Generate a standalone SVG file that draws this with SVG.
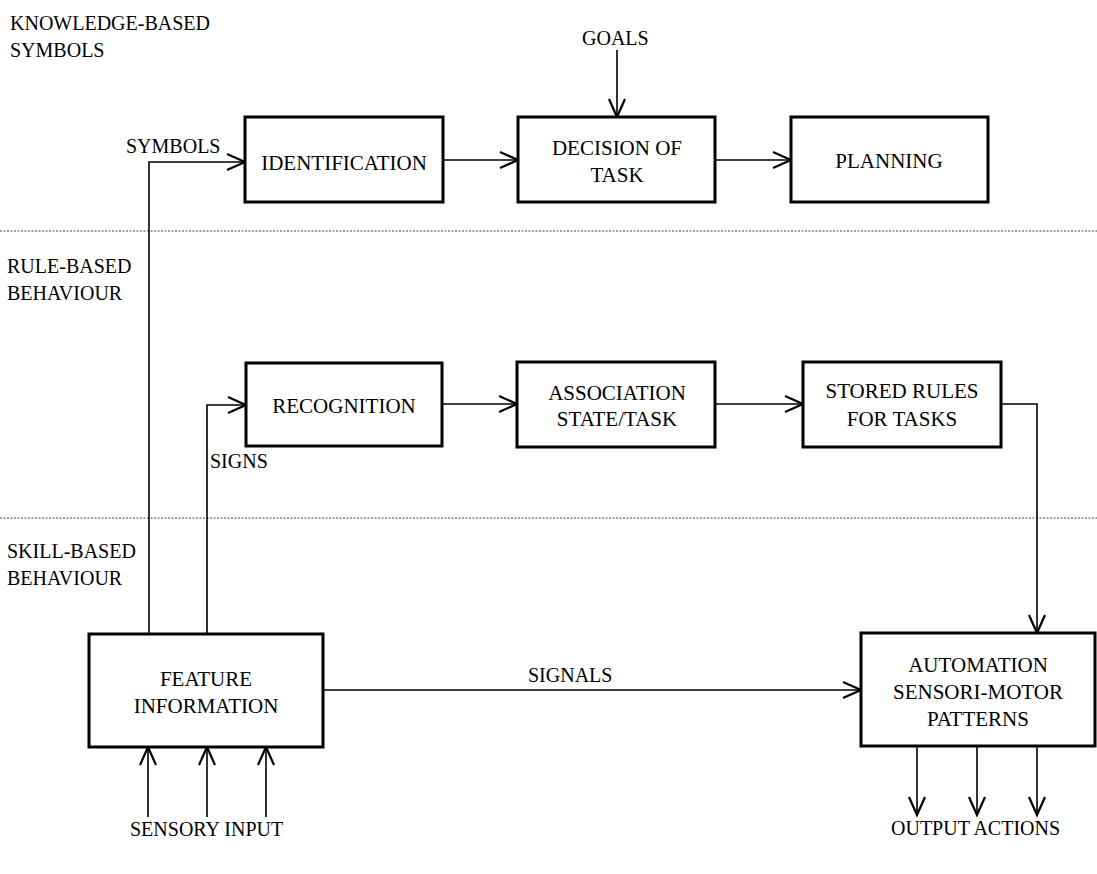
<svg xmlns="http://www.w3.org/2000/svg" width="1097" height="874" viewBox="0 0 1097 874" font-family="'Liberation Serif','Times New Roman','DejaVu Serif',serif">
<style>
text{font-family:"Liberation Serif","Times New Roman","DejaVu Serif",serif;fill:#000;}
.lbl{font-size:20px;}
.bt{font-size:21px;text-anchor:middle;}
.box{fill:#fff;stroke:#000;stroke-width:3;}
.con{fill:none;stroke:#000;stroke-width:1.6;}
.arr{marker-end:url(#ah);}
.sep{stroke:#444;stroke-width:1;stroke-dasharray:2,1.5;}
</style>
<defs>
<marker id="ah" markerUnits="userSpaceOnUse" markerWidth="24" markerHeight="20" refX="20" refY="10" orient="auto">
<path d="M2,2 L20,10 L2,18" fill="none" stroke="#000" stroke-width="2.2"/>
</marker>
</defs>
<rect width="1097" height="874" fill="#fff"/>
<g id="separators">
<line class="sep" x1="0" y1="231" x2="1097" y2="231"/>
<line class="sep" x1="0" y1="518" x2="1097" y2="518"/>
</g>
<g id="level-labels">
<text class="lbl" x="10" y="30">KNOWLEDGE-BASED</text>
<text class="lbl" x="10" y="57">SYMBOLS</text>
<text class="lbl" x="7" y="273">RULE-BASED</text>
<text class="lbl" x="7" y="300">BEHAVIOUR</text>
<text class="lbl" x="7" y="558">SKILL-BASED</text>
<text class="lbl" x="7" y="585">BEHAVIOUR</text>
</g>
<g id="connectors">
<polyline class="con arr" points="149,633 149,162 245,162"/>
<polyline class="con arr" points="207,633 207,405 246,405"/>
<line class="con arr" x1="443" y1="160" x2="518" y2="160"/>
<line class="con arr" x1="715" y1="160" x2="791" y2="160"/>
<line class="con arr" x1="617" y1="50" x2="617" y2="117"/>
<line class="con arr" x1="442" y1="404" x2="517" y2="404"/>
<line class="con arr" x1="715" y1="404" x2="803" y2="404"/>
<polyline class="con arr" points="1001,404 1037,404 1037,633"/>
<line class="con arr" x1="323" y1="690" x2="861" y2="690"/>
<line class="con arr" x1="148" y1="817" x2="148" y2="747"/>
<line class="con arr" x1="207" y1="817" x2="207" y2="747"/>
<line class="con arr" x1="266" y1="817" x2="266" y2="747"/>
<line class="con arr" x1="917" y1="746" x2="917" y2="815"/>
<line class="con arr" x1="977" y1="746" x2="977" y2="815"/>
<line class="con arr" x1="1037" y1="746" x2="1037" y2="815"/>
</g>
<g id="connector-labels">
<text class="lbl" x="126" y="153">SYMBOLS</text>
<text class="lbl" x="582" y="45">GOALS</text>
<text class="lbl" x="210" y="468">SIGNS</text>
<text class="lbl" x="528" y="682">SIGNALS</text>
<text class="lbl" x="130" y="836">SENSORY INPUT</text>
<text class="lbl" x="891" y="835">OUTPUT ACTIONS</text>
</g>
<g id="identification">
<rect class="box" x="245" y="117" width="198" height="85"/>
<text class="bt" x="344" y="170">IDENTIFICATION</text>
</g>
<g id="decision">
<rect class="box" x="518" y="117" width="197" height="85"/>
<text class="bt" x="617" y="155">DECISION OF</text>
<text class="bt" x="617" y="182">TASK</text>
</g>
<g id="planning">
<rect class="box" x="791" y="117" width="197" height="85"/>
<text class="bt" x="889" y="168">PLANNING</text>
</g>
<g id="recognition">
<rect class="box" x="246" y="363" width="196" height="83"/>
<text class="bt" x="344" y="413">RECOGNITION</text>
</g>
<g id="association">
<rect class="box" x="517" y="362" width="198" height="85"/>
<text class="bt" x="617" y="400">ASSOCIATION</text>
<text class="bt" x="617" y="426">STATE/TASK</text>
</g>
<g id="stored-rules">
<rect class="box" x="803" y="362" width="198" height="85"/>
<text class="bt" x="902" y="398">STORED RULES</text>
<text class="bt" x="902" y="426">FOR TASKS</text>
</g>
<g id="feature">
<rect class="box" x="89" y="634" width="234" height="113"/>
<text class="bt" x="206" y="686">FEATURE</text>
<text class="bt" x="206" y="713">INFORMATION</text>
</g>
<g id="automation">
<rect class="box" x="861" y="633" width="234" height="113"/>
<text class="bt" x="978" y="672">AUTOMATION</text>
<text class="bt" x="978" y="699">SENSORI-MOTOR</text>
<text class="bt" x="978" y="726">PATTERNS</text>
</g>
</svg>
